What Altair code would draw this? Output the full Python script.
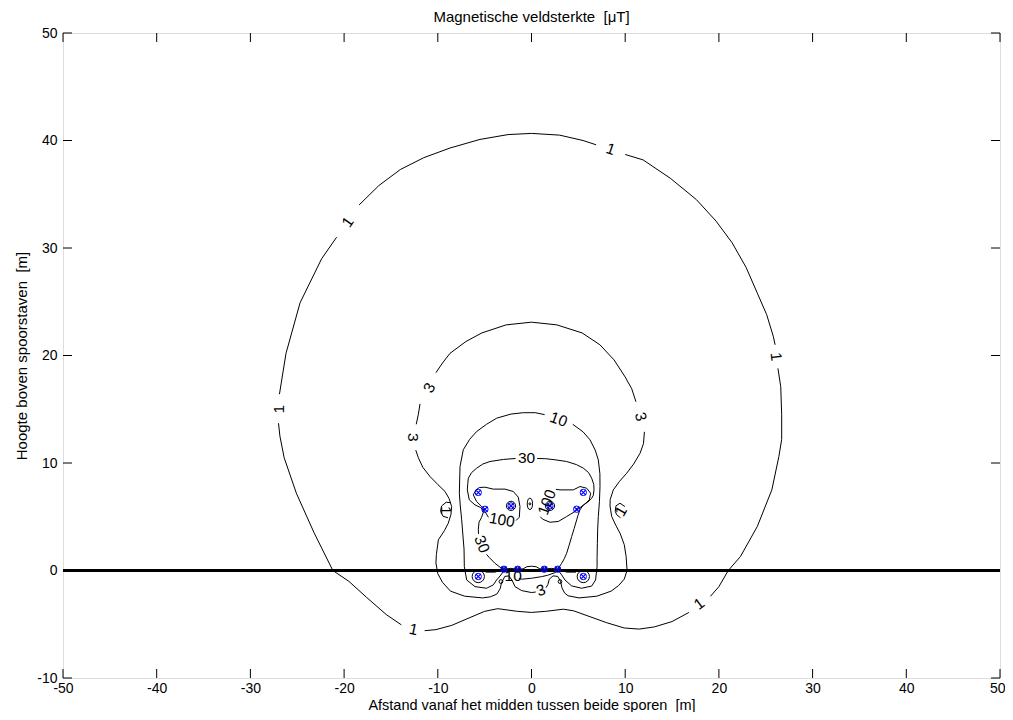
import altair as alt
import pandas as pd

# ---------------- contour level 1 (outer) ----------------
c1_a = [(10.0, 38.7), (11.9, 38.2), (14.8, 36.5), (17.6, 34.5), (19.7, 32.5), (21.4, 30.5),
        (22.9, 28.2), (24.1, 25.8), (25.1, 23.8), (25.8, 21.8), (26.0, 21.0)]
c1_b = [(26.3, 18.8), (26.6, 17.1), (26.7, 14.5), (26.7, 12.2), (26.4, 10.6), (25.65, 7.5),
        (24.1, 4.1), (22.3, 1.3), (21.0, 0.0), (20.0, -1.5), (19.1, -2.4)]
c1_c = [(16.8, -3.9), (15.0, -4.75), (13.1, -5.25), (11.5, -5.45), (9.9, -5.35), (8.0, -4.85),
        (6.25, -4.3), (4.5, -3.75), (3.4, -3.6), (1.5, -3.8), (0.0, -3.9), (-1.5, -3.8),
        (-3.6, -3.55), (-5.0, -3.8), (-6.9, -4.5), (-8.5, -5.1), (-10.2, -5.5), (-11.4, -5.6)]
c1_d = [(-13.9, -5.05), (-15.5, -4.1), (-17.6, -2.5), (-19.5, -1.0), (-21.2, 0.0), (-23.2, 3.5),
        (-25.1, 7.2), (-26.4, 10.5), (-26.85, 12.5), (-27.0, 13.7)]
c1_e = [(-26.9, 16.4), (-26.2, 20.2), (-24.7, 24.9), (-22.4, 29.0), (-20.8, 31.0)]
c1_f = [(-18.4, 34.0), (-16.3, 35.8), (-14.0, 37.3), (-11.5, 38.4), (-8.7, 39.3), (-5.5, 40.1),
        (-2.5, 40.55), (0.0, 40.66), (3.0, 40.5), (5.5, 40.0), (6.9, 39.6)]
c1_loop_left = [(-8.6, 6.3), (-9.1, 6.35), (-9.6, 6.0), (-9.7, 5.5), (-9.45, 5.05), (-8.9, 4.9)]
c1_loop_right = [(9.97, 5.95), (9.44, 6.26), (9.01, 6.01), (8.94, 5.49), (9.1, 5.18), (9.5, 4.9)]

# ---------------- contour level 3 ----------------
c3_a = [(-10.2, 18.4), (-9.5, 19.3), (-8.7, 20.2), (-7.0, 21.3), (-5.3, 22.1), (-2.7, 22.85),
        (0.0, 23.1), (2.7, 22.85), (5.4, 22.1), (7.3, 21.0), (8.8, 19.6), (10.0, 18.0),
        (10.7, 16.9), (11.15, 15.7)]
c3_b = [(12.05, 12.9), (11.95, 11.8), (11.58, 10.9), (10.9, 9.9), (10.16, 9.05), (9.4, 8.3),
        (8.73, 7.5), (8.4, 6.6), (8.38, 6.0), (8.56, 5.02), (9.0, 4.2), (9.45, 3.47), (9.9, 2.4),
        (10.1, 1.3), (10.2, 0.0), (9.9, -0.8), (9.3, -1.4), (8.5, -1.92), (6.97, -2.39),
        (5.07, -2.55), (3.9, -2.35), (3.54, -2.1), (3.25, -1.61), (3.1, -1.0), (2.8, -0.55),
        (2.3, -0.5), (1.9, -0.8), (1.75, -1.3), (1.55, -1.6)]
c3_c = [(0.45, -2.0), (0.0, -2.05), (-1.05, -1.87), (-1.76, -1.5), (-2.05, -0.95), (-2.4, -0.5),
        (-2.85, -0.55), (-3.2, -1.15), (-3.35, -1.7), (-3.7, -2.2), (-4.4, -2.45), (-5.22, -2.55),
        (-7.13, -2.39), (-8.65, -1.92), (-9.5, -1.1), (-10.0, -0.3), (-10.2, 0.7), (-10.15, 1.5),
        (-9.94, 2.85), (-9.3, 3.7), (-8.88, 4.4), (-8.6, 5.2), (-8.52, 5.95), (-8.8, 6.7),
        (-9.23, 7.35), (-10.0, 8.0), (-10.83, 8.74), (-11.6, 9.6), (-12.08, 10.5), (-12.35, 11.2)]
c3_d = [(-12.3, 13.6), (-12.08, 14.5), (-11.9, 15.5)]

# ---------------- contour level 10 ----------------
c10_a = [(4.4, 13.6), (5.5, 12.9), (6.24, 12.16), (6.8, 11.2), (7.13, 10.29), (7.3, 9.0),
         (7.31, 7.81), (7.25, 6.4), (7.13, 5.02), (7.06, 3.78), (7.03, 2.53), (7.0, 1.2),
         (7.0, 0.37), (6.84, -0.88), (6.42, -1.45), (5.35, -1.65), (4.28, -1.43), (3.57, -0.88),
         (3.22, -0.41), (2.86, 0.0), (2.5, -0.2), (1.7, -0.45), (1.08, -0.57), (0.0, -0.72),
         (-1.05, -0.81), (-1.35, -0.72)]
c10_b = [(-2.55, -0.2), (-2.94, 0.0), (-3.26, -0.41), (-3.72, -0.88), (-4.08, -1.34), (-4.79, -1.65),
         (-6.03, -1.5), (-6.92, -0.88), (-7.17, 0.37), (-7.2, 2.0), (-7.28, 2.84), (-7.45, 4.71),
         (-7.6, 6.0), (-7.7, 7.19), (-7.63, 9.67), (-7.28, 11.23), (-6.6, 12.2), (-5.85, 12.93),
         (-4.8, 13.6), (-3.72, 14.17), (-2.2, 14.55), (-0.87, 14.68), (0.4, 14.68), (1.4, 14.5)]

# ---------------- contour level 30 ----------------
c30_a = [(0.6, 10.42), (1.5, 10.4), (2.5, 10.3), (3.75, 10.14), (4.8, 9.85), (5.53, 9.52),
         (6.1, 9.1), (6.42, 8.59), (6.65, 8.0), (6.67, 7.5), (6.6, 7.0), (6.42, 6.72), (6.0, 6.35),
         (5.53, 6.1), (5.17, 5.64), (4.95, 5.1), (4.82, 4.71), (4.55, 3.9), (4.29, 3.16),
         (4.0, 2.3), (3.75, 1.6), (3.5, 1.1), (3.22, 0.67), (2.86, 0.2), (2.79, 0.12), (2.1, 0.2),
         (1.37, 0.12), (0.9, 0.15), (0.5, 0.35), (0.0, 0.4), (-0.5, 0.35), (-0.9, 0.15),
         (-1.48, 0.12), (-2.2, 0.2), (-2.94, 0.12), (-3.2, 0.2), (-3.9, 0.67), (-4.5, 1.2),
         (-4.8, 1.5)]
c30_b = [(-5.65, 3.4), (-5.68, 3.78), (-5.6, 4.5), (-5.35, 4.9), (-5.1, 5.5), (-5.4, 5.85),
         (-6.03, 6.1), (-6.64, 6.57), (-6.85, 7.5), (-6.8, 8.1), (-6.74, 8.59), (-6.4, 9.1),
         (-5.85, 9.52), (-5.2, 9.9), (-4.43, 10.14), (-3.0, 10.33), (-1.7, 10.42)]
c30_ground_left = [(-4.9, -0.15), (-3.9, -0.15), (-3.2, 0.05)]
c30_ground_right = [(4.75, -0.15), (3.75, -0.15), (3.05, 0.05)]

# ---------------- contour level 100 ----------------
c100_left = [(-4.6, 4.95), (-4.86, 5.33), (-5.32, 5.95), (-5.86, 6.42), (-6.21, 7.04), (-5.93, 7.5),
             (-5.57, 7.72), (-4.97, 7.75), (-4.08, 7.57), (-2.83, 7.57), (-1.94, 7.35), (-1.41, 6.82),
             (-1.23, 5.95), (-1.3, 4.96), (-1.65, 4.65)]
c100_right = [(2.6, 7.55), (3.04, 7.5), (4.46, 7.5), (5.17, 7.81), (5.88, 7.66), (6.31, 7.19),
              (6.17, 6.57), (5.6, 6.11), (5.1, 5.8), (4.64, 5.49), (3.75, 5.02), (2.86, 4.56),
              (1.97, 4.49), (1.19, 4.77), (0.95, 5.0)]

segments = [c1_a, c1_b, c1_c, c1_d, c1_e, c1_f, c1_loop_left, c1_loop_right,
            c3_a, c3_b, c3_c, c3_d, c10_a, c10_b, c30_a, c30_b, c30_ground_left,
            c30_ground_right, c100_left, c100_right]

# ---------------- contour labels ----------------
label_text = ["1", "1", "1", "1", "1", "1", "1", "1",
              "3", "3", "3", "3", "10", "10", "30", "30", "100", "100"]
label_x = [8.45, 26.1, 17.9, -12.6, -27.0, -19.6, -9.15, 9.55,
           11.65, -12.6, -10.9, 1.0, 2.9, -1.95, -0.52, -5.3, -3.15, 1.65]
label_y = [39.2, 19.9, -3.1, -5.5, 15.0, 32.4, 5.6, 5.5,
           14.3, 12.4, 17.0, -1.85, 14.05, -0.5, 10.45, 2.45, 4.7, 6.35]
label_angle = [19, 83, 323, 12, 270, 305, 90, 300,
               76, 90, 299, 341, 20, 0, 0, 69, 10, 290]

# ---------------- conductors ----------------
cond_x = [-5.68, -4.97, -2.19, 1.97, 4.82, 5.53, -5.68, -2.94, -1.48, 1.37, 2.79, 5.53]
cond_y = [7.26, 5.70, 6.01, 6.01, 5.70, 7.26, -0.56, 0.12, 0.12, 0.12, 0.12, -0.56]

# small closed contour loops (round)
loop_x = [-2.19, 1.97, -5.68, 5.53, -3.26, 3.04, -0.17, -2.94, -1.48, 1.37, 2.79]
loop_y = [6.01, 6.01, -0.56, -0.56, -1.03, -1.03, 6.2, 0.12, 0.12, 0.12, 0.12]
loop_size = [85, 85, 150, 150, 14, 14, 4, 20, 20, 20, 20]

# tall centre loop
oval_x = [-0.17]
oval_y = [6.2]

x_ticks = [-50, -40, -30, -20, -10, 0, 10, 20, 30, 40, 50]
y_ticks = [-10, 0, 10, 20, 30, 40, 50]

W, H = 937, 645
FONT = "Liberation Sans"
NB = "\u00a0"

rows = []
for s, seg in enumerate(segments):
    for i, (px, py) in enumerate(seg):
        rows.append({"seg": s, "i": i, "x": px, "y": py})
lines_df = pd.DataFrame(rows)
labels_df = pd.DataFrame({"t": label_text, "x": label_x, "y": label_y, "a": label_angle})
cond_df = pd.DataFrame({"x": cond_x, "y": cond_y})
loop_df = pd.DataFrame({"x": loop_x, "y": loop_y, "s": loop_size})
oval_df = pd.DataFrame({"x": oval_x, "y": oval_y})
xt_df = pd.DataFrame({"x": x_ticks})
yt_df = pd.DataFrame({"y": y_ticks})
zero_df = pd.DataFrame({"y": [0]})

xscale = alt.Scale(domain=[-50, 50], nice=False, zero=False)
yscale = alt.Scale(domain=[-10, 50], nice=False, zero=False)
xaxis = alt.Axis(values=x_ticks,
                 title="Afstand vanaf het midden tussen beide sporen " + NB + "[m]",
                 labelExpr="'' + datum.value",
                 labelAlign={"condition": {"test": "datum.value == 50", "value": "right"},
                             "value": "center"},
                 labelOffset={"condition": {"test": "datum.value == 50", "value": 5},
                              "value": 0},
                 ticks=False, domain=False, grid=False, labelFlush=False, labelPadding=3,
                 titleBaseline="alphabetic", titleY=31,
                 labelFontSize=14, titleFontSize=14.5, titleFontWeight="normal",
                 labelFont=FONT, titleFont=FONT, labelColor="black", titleColor="black")
yaxis = alt.Axis(values=y_ticks, title="Hoogte boven spoorstaven " + NB + "[m]",
                 labelExpr="'' + datum.value",
                 ticks=False, domain=False, grid=False, labelFlush=False, labelPadding=6,
                 titlePadding=7, labelFontSize=14, titleFontSize=15, titleFontWeight="normal",
                 labelFont=FONT, titleFont=FONT, labelColor="black", titleColor="black")


def X():
    return alt.X("x:Q", scale=xscale, axis=xaxis)


def Y():
    return alt.Y("y:Q", scale=yscale, axis=yaxis)


lines = alt.Chart(lines_df).mark_line(color="black", strokeWidth=1, clip=True).encode(
    x=X(), y=Y(), detail="seg:N", order="i:Q")

zero_line = alt.Chart(zero_df).mark_rule(color="black", strokeWidth=3).encode(y=Y())

loops = alt.Chart(loop_df).mark_point(shape="circle", filled=False, color="black",
                                       strokeWidth=1, opacity=1).encode(
    x=X(), y=Y(), size=alt.Size("s:Q", scale=None, legend=None))

oval = alt.Chart(oval_df).mark_point(
    shape="M0,-1C0.62,-1 0.62,1 0,1C-0.62,1 -0.62,-1 0,-1Z",
    filled=False, color="black", strokeWidth=1, size=130, opacity=1).encode(x=X(), y=Y())

cond_x_mark = alt.Chart(cond_df).mark_point(
    shape="M-1,-1L1,1M-1,1L1,-1", filled=False, color="#0000ff", strokeWidth=1.2,
    size=28, opacity=1).encode(x=X(), y=Y())
cond_o_mark = alt.Chart(cond_df).mark_point(
    shape="circle", filled=False, color="#0000ff", strokeWidth=1, size=40,
    opacity=1).encode(x=X(), y=Y())

labels = alt.Chart(labels_df).mark_text(font=FONT, fontSize=15.5, color="black",
                                         align="center", baseline="middle").encode(
    x=X(), y=Y(), text="t:N", angle=alt.Angle("a:Q", scale=None))

tick_bottom = alt.Chart(xt_df).mark_rule(color="black", strokeWidth=1).encode(
    x=X(), y=alt.value(H), y2=alt.value(H - 9))
tick_top = alt.Chart(xt_df).mark_rule(color="black", strokeWidth=1).encode(
    x=X(), y=alt.value(0), y2=alt.value(9))
tick_left = alt.Chart(yt_df).mark_rule(color="black", strokeWidth=1).encode(
    y=Y(), x=alt.value(0), x2=alt.value(9))
tick_right = alt.Chart(yt_df).mark_rule(color="black", strokeWidth=1).encode(
    y=Y(), x=alt.value(W), x2=alt.value(W - 9))

chart = alt.layer(
    lines, zero_line, loops, oval, cond_o_mark, cond_x_mark, labels,
    tick_bottom, tick_top, tick_left, tick_right
).properties(
    width=W, height=H,
    title=alt.TitleParams("Magnetische veldsterkte " + NB + "[μT]", font=FONT, fontSize=15,
                          fontWeight="normal", color="black", anchor="middle", offset=1,
                          frame="group"),
    autosize=alt.AutoSizeParams(type="none"),
    padding={"left": 55, "top": 25, "right": 5, "bottom": 34},
).configure_view(stroke="black", strokeWidth=1).configure(background="white")

chart.save("out.html", embed_options={"renderer": "svg", "actions": False})
